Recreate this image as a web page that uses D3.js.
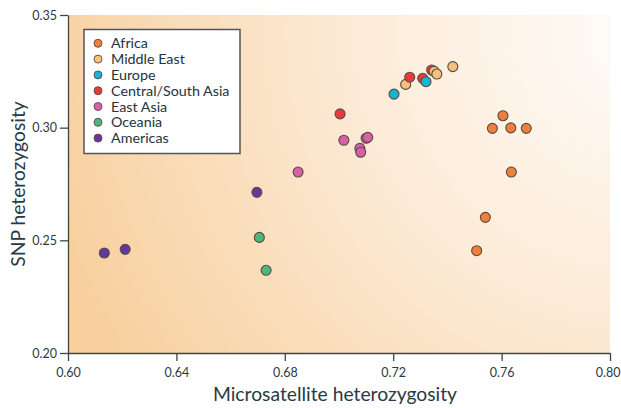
<!DOCTYPE html>
<html>
<head>
<meta charset="utf-8">
<script src="https://cdn.jsdelivr.net/npm/d3@7"></script>
<style>
   body { margin: 0; background: #fff; }
   svg { display: block; font-family: Lato, 'Open Sans', sans-serif; }
</style>
</head>
<body>
<div id="chart"></div>
<script>

// REGION NAMES
var regions = ['Africa', 'Middle East', 'Europe', 'Central/South Asia', 'East Asia', 'Oceania', 'Americas'];

// POPULATIONS PER REGION -- [MICROSATELLITE, SNP] HETEROZYGOSITY
var africa = [[0.7605, 0.3053], [0.7566, 0.2997], [0.7634, 0.2999], [0.7691, 0.2997], [0.7636, 0.2803], [0.7540, 0.2602], [0.7508, 0.2454]];
var middleEast = [[0.7246, 0.3192], [0.7351, 0.3250], [0.7361, 0.3238], [0.7420, 0.3271]];
var europe = [[0.7203, 0.3149], [0.7321, 0.3204]];
var centralSouthAsia = [[0.7004, 0.3061], [0.7261, 0.3224], [0.7309, 0.3219], [0.7342, 0.3256]];
var eastAsia = [[0.6849, 0.2803], [0.7018, 0.2944], [0.7106, 0.2957], [0.7100, 0.2953], [0.7077, 0.2908], [0.7080, 0.2891]];
var oceania = [[0.6706, 0.2513], [0.6731, 0.2367]];
var americas = [[0.6134, 0.2444], [0.6211, 0.2460], [0.6697, 0.2713]];

// TICK VALUES
var xTicks = [0.60, 0.64, 0.68, 0.72, 0.76, 0.80];
var yTicks = [0.20, 0.25, 0.30, 0.35];

// CHART SETTINGS
var settings = {
   width: 621,
   height: 408,
   margin: { top: 15, right: 11, bottom: 55, left: 68 },
   radius: 5,
   colors: ['#ef7f3f', '#f7c07f', '#19b2d2', '#e63a3b', '#d761a8', '#4db67a', '#65399a']
};

// BUILD ROWS FOR DRAWING
var groups = [africa, middleEast, europe, centralSouthAsia, eastAsia, oceania, americas];
var points = [];
groups.forEach((grp, gi) => {
   grp.forEach(p => { points.push({ region: gi, x: p[0], y: p[1] }); });
});

// SORT LEFT TO RIGHT SO OVERLAPS STACK LIKE THE FIGURE
points.sort((a, b) => a.x - b.x);

var plotW = settings.width - settings.margin.left - settings.margin.right;
var plotH = settings.height - settings.margin.top - settings.margin.bottom;

// X-SCALING
var xScale = d3.scaleLinear()
   .domain([0.60, 0.80])
   .range([0, plotW]);

// Y-SCALING
var yScale = d3.scaleLinear()
   .domain([0.20, 0.35])
   .range([plotH, 0]);

// CANVAS
var svg = d3.select('#chart').append('svg')
   .attr('width', settings.width)
   .attr('height', settings.height);

// BACKGROUND GRADIENT
var grad = svg.append('defs').append('radialGradient')
   .attr('id', 'bg')
   .attr('gradientUnits', 'userSpaceOnUse')
   .attr('cx', plotW * 1.05)
   .attr('cy', plotH * 0.05)
   .attr('r', plotW * 1.15);

grad.append('stop').attr('offset', '0%').attr('stop-color', '#fefcf9');
grad.append('stop').attr('offset', '45%').attr('stop-color', '#fcebd7');
grad.append('stop').attr('offset', '100%').attr('stop-color', '#f8cf9d');

var g = svg.append('g')
   .attr('transform', 'translate(' + settings.margin.left + ',' + settings.margin.top + ')');

g.append('rect')
   .attr('width', plotW)
   .attr('height', plotH)
   .attr('fill', 'url(#bg)');

// X AXIS
var xAxis = g.append('g')
   .attr('transform', 'translate(0,' + plotH + ')')
   .call(d3.axisBottom(xScale).tickValues(xTicks).tickFormat(d3.format('.2f')).tickSize(8).tickSizeOuter(0));

// Y AXIS
var yAxis = g.append('g')
   .call(d3.axisLeft(yScale).tickValues(yTicks).tickFormat(d3.format('.2f')).tickSize(8).tickSizeOuter(0));

// AXIS STYLING
[xAxis, yAxis].forEach(ax => {
   ax.select('.domain').attr('stroke', '#444').attr('stroke-width', 1.3);
   ax.selectAll('.tick line').attr('stroke', '#444').attr('stroke-width', 1.3);
   ax.selectAll('.tick text')
      .attr('fill', '#2d3a44')
      .style('font-size', '12.5px')
      .style('font-family', 'Lato, sans-serif');
});
xAxis.selectAll('.tick text').attr('dy', '1.05em');
yAxis.selectAll('.tick text').attr('x', -11);

// KEEP LAST X LABEL INSIDE THE PAGE
xAxis.selectAll('.tick text')
   .filter(d => d === 0.80)
   .attr('text-anchor', 'end')
   .attr('x', 10);

// AXIS TITLES
svg.append('text')
   .attr('x', settings.margin.left + plotW / 2 - 4)
   .attr('y', 401)
   .attr('text-anchor', 'middle')
   .attr('fill', '#2b3a45')
   .style('font-size', '19.3px')
   .text('Microsatellite heterozygosity');

svg.append('text')
   .attr('transform', 'translate(25,' + (settings.margin.top + plotH / 2) + ') rotate(-90)')
   .attr('text-anchor', 'middle')
   .attr('fill', '#2b3a45')
   .style('font-size', '19.3px')
   .text('SNP heterozygosity');

// DOTS
g.selectAll('circle.dot')
   .data(points)
   .enter().append('circle')
      .attr('class', 'dot')
      .attr('cx', d => xScale(d.x))
      .attr('cy', d => yScale(d.y))
      .attr('r', settings.radius)
      .attr('fill', d => settings.colors[d.region])
      .attr('stroke', '#5a4a40')
      .attr('stroke-width', 1.1);

// LEGEND
var legend = svg.append('g').attr('transform', 'translate(84,29.5)');

legend.append('rect')
   .attr('width', 156)
   .attr('height', 124)
   .attr('fill', '#fff')
   .attr('stroke', '#555')
   .attr('stroke-width', 1.5);

var rows = legend.selectAll('g.row')
   .data(regions)
   .enter().append('g')
      .attr('class', 'row')
      .attr('transform', (d, i) => 'translate(0,' + (13.8 + i * 15.8) + ')');

rows.append('circle')
   .attr('cx', 14)
   .attr('r', 4)
   .attr('fill', (d, i) => settings.colors[i])
   .attr('stroke', '#5a4a40')
   .attr('stroke-width', 0.9);

rows.append('text')
   .attr('x', 27)
   .attr('dy', '0.35em')
   .attr('fill', '#24333d')
   .style('font-size', '14.3px')
   .text(d => d);

</script>
</body>
</html>
